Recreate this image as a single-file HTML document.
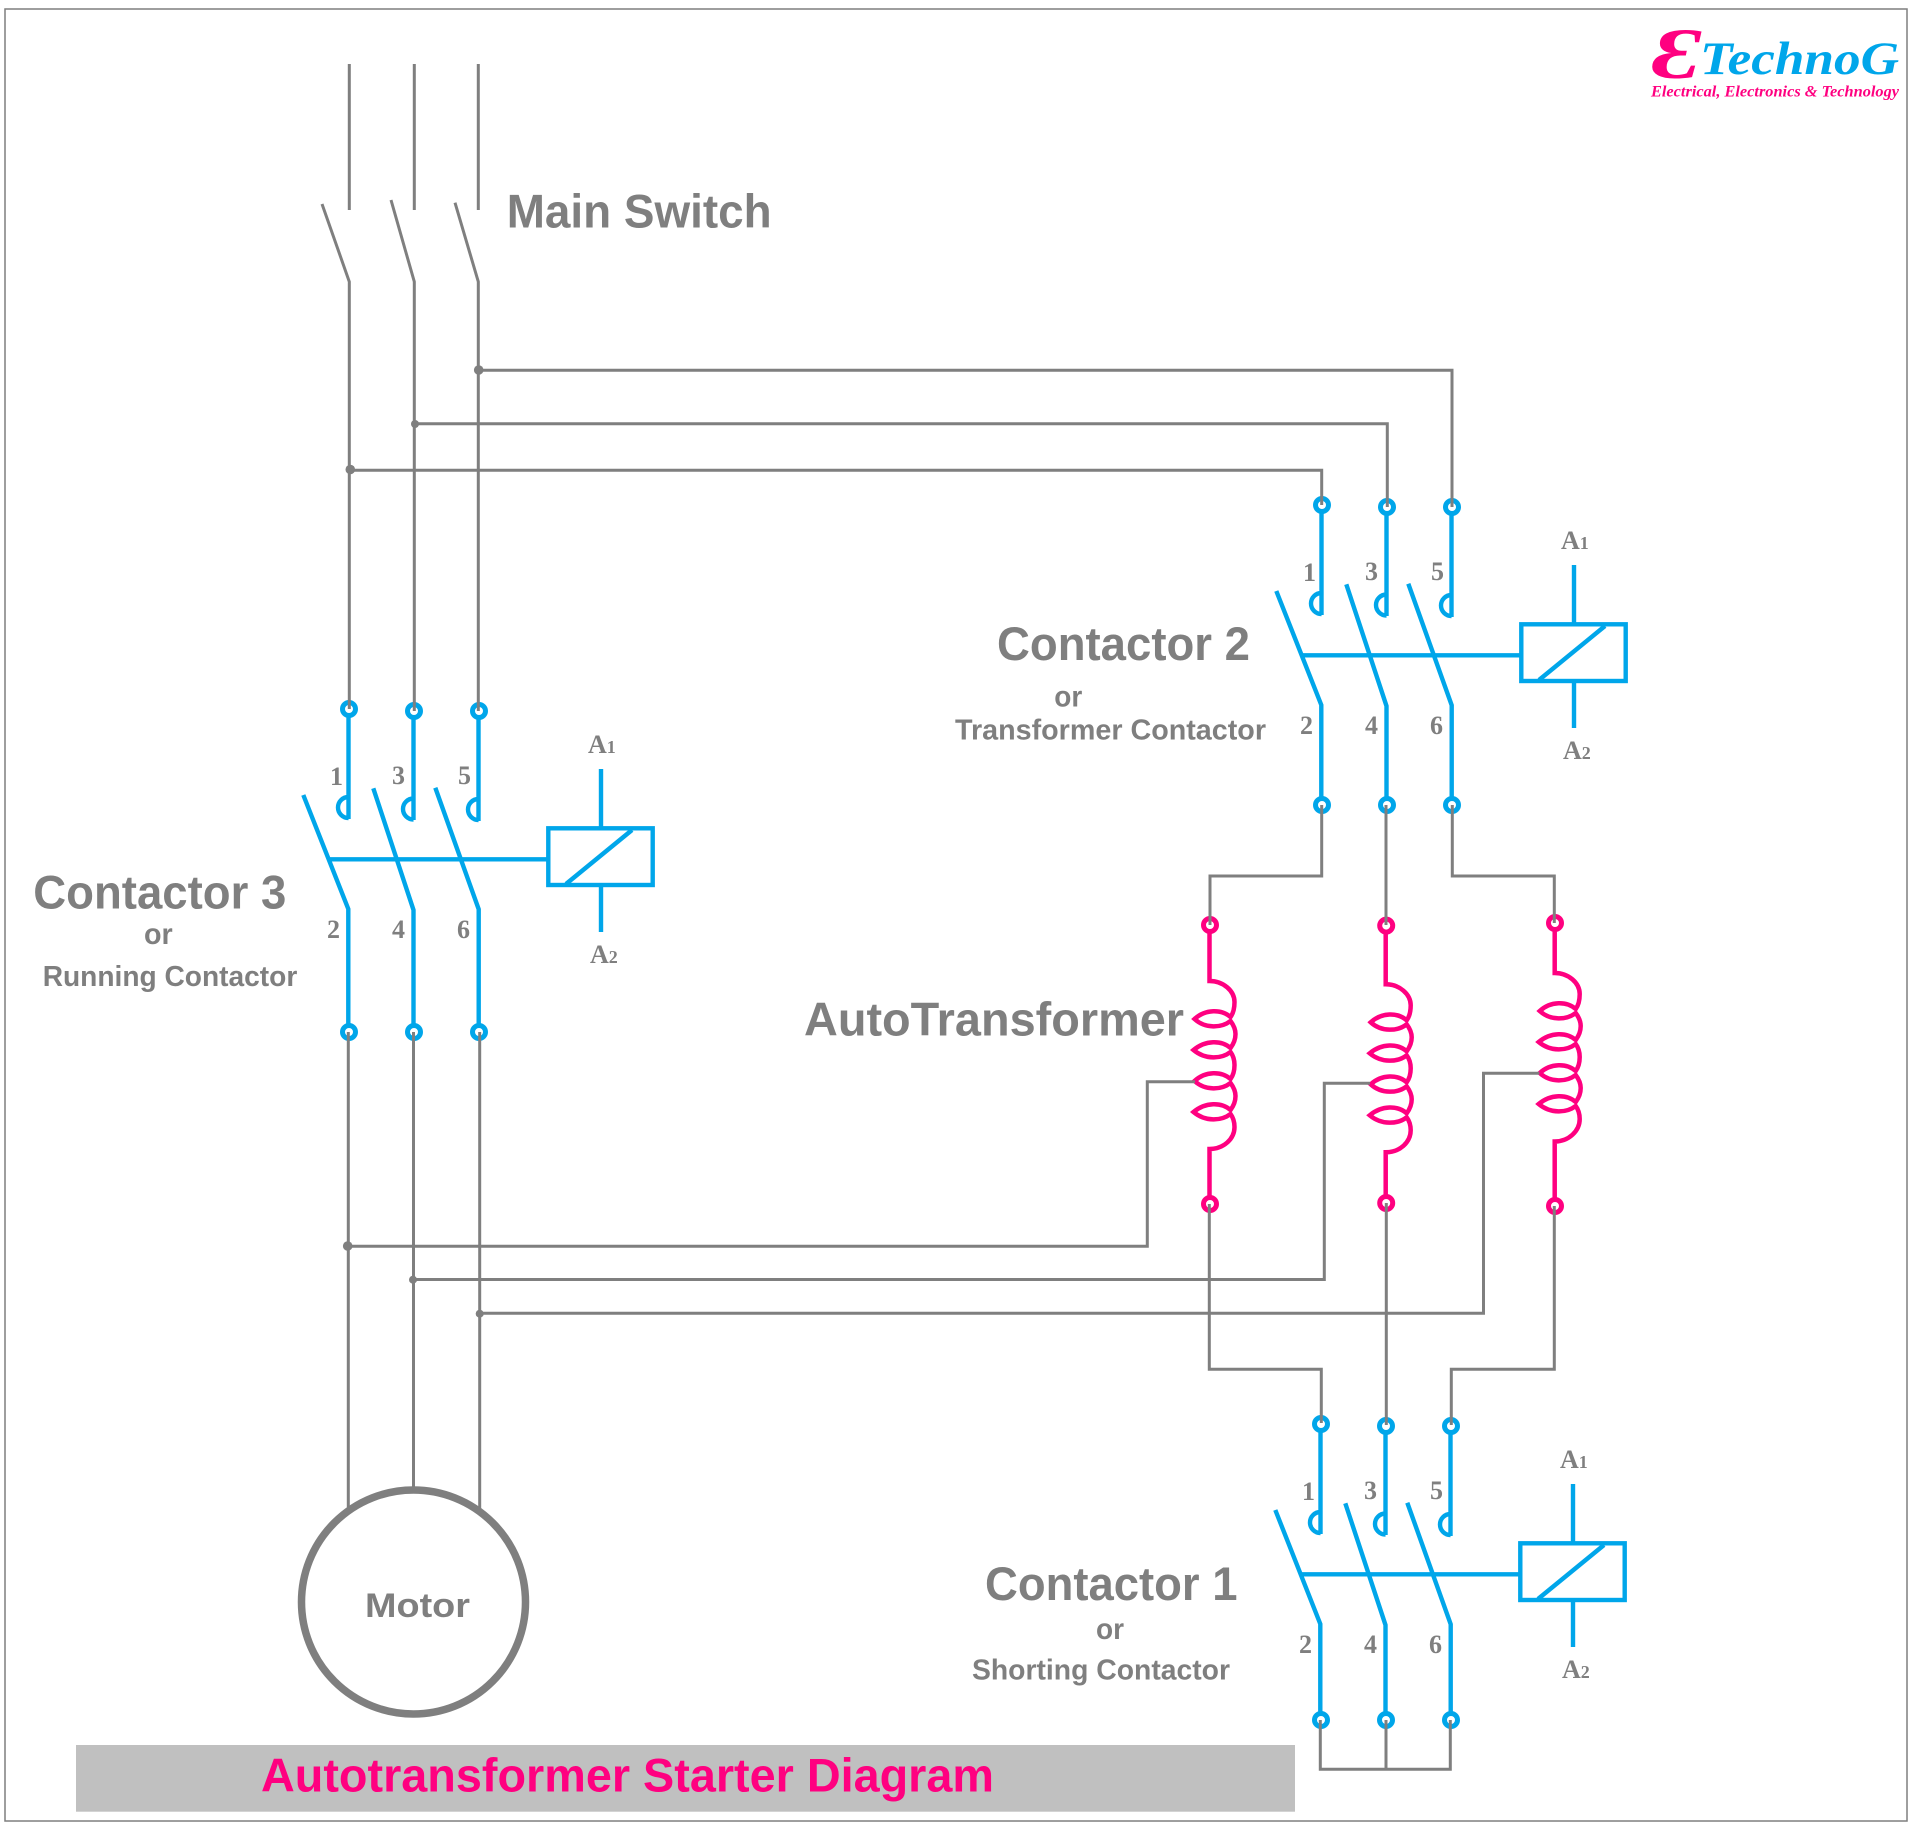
<!DOCTYPE html>
<html lang="en">
<head>
<meta charset="utf-8">
<title>Autotransformer Starter Diagram</title>
<style>
html,body{margin:0;padding:0;background:#fff;width:1921px;height:1829px;overflow:hidden}
svg{display:block}
.s{font-family:"Liberation Sans",sans-serif;font-weight:bold;fill:#7f7f7f}
.n{font-family:"Liberation Serif",serif;font-weight:bold;fill:#7f7f7f;font-size:26px}
.sub{font-size:18px}
.b{fill:none;stroke:#00a6ea;stroke-width:4.4}
.t{fill:#fff;stroke:#00a6ea;stroke-width:5;r:6.5px}
.p{fill:none;stroke:#ff0080;stroke-width:4.5}
.pt{fill:#fff;stroke:#ff0080;stroke-width:5;r:6.5px}
.g{fill:none;stroke:#7f7f7f;stroke-width:3}
.d{fill:#7f7f7f}
</style>
</head>
<body>
<svg width="1921" height="1829" viewBox="0 0 1921 1829" xmlns="http://www.w3.org/2000/svg">
<rect x="0" y="0" width="1921" height="1829" fill="#fff"/>
<rect x="5" y="9" width="1902" height="1812" fill="none" stroke="#7f7f7f" stroke-width="1.5"/>

<!-- Contactor 3 -->
<g>
<circle class="t" cx="349" cy="709" r="7"/><circle class="t" cx="414" cy="711" r="7"/><circle class="t" cx="479" cy="711" r="7"/>
<path class="b" d="M348.5 716V819M348.5 797A10.5 10.5 0 0 0 348.5 818"/>
<path class="b" d="M413.5 718V820M413.5 798.500A10.500 10.500 0 0 0 413.500 819.500"/>
<path class="b" d="M478.500 718V821M478.500 799A10.500 10.500 0 0 0 478.500 820"/>
<path class="b" d="M303.300 795L348.300 909V1025M373.300 788.300L413.500 910V1025M435.300 787.700L478.700 909.300V1025"/>
<circle class="t" cx="349" cy="1032" r="7"/><circle class="t" cx="414" cy="1032" r="7"/><circle class="t" cx="479" cy="1032" r="7"/>
<path class="b" d="M329 859.300H548"/>
<rect class="b" x="548.300" y="828.300" width="104.400" height="56.700"/>
<path class="b" d="M566 884L632 830M601 769V827M601 887V932"/>
<text class="n" x="330" y="785">1</text><text class="n" x="392" y="784">3</text><text class="n" x="458" y="784">5</text>
<text class="n" x="327" y="938">2</text><text class="n" x="392" y="938">4</text><text class="n" x="457" y="938">6</text>
<text class="n" x="588" y="753">A<tspan class="sub">1</tspan></text>
<text class="n" x="590" y="963">A<tspan class="sub">2</tspan></text>
</g>

<!-- Contactor 2 -->
<g transform="translate(973 -204)">
<circle class="t" cx="349" cy="709" r="7"/><circle class="t" cx="414" cy="711" r="7"/><circle class="t" cx="479" cy="711" r="7"/>
<path class="b" d="M348.5 716V819M348.5 797A10.5 10.5 0 0 0 348.5 818"/>
<path class="b" d="M413.5 718V820M413.5 798.500A10.500 10.500 0 0 0 413.500 819.500"/>
<path class="b" d="M478.500 718V821M478.500 799A10.500 10.500 0 0 0 478.500 820"/>
<path class="b" d="M303.300 795L348.300 909V1002M373.300 788.300L413.500 910V1002M435.300 787.700L478.700 909.300V1002"/>
<circle class="t" cx="349" cy="1009" r="7"/><circle class="t" cx="414" cy="1009" r="7"/><circle class="t" cx="479" cy="1009" r="7"/>
<path class="b" d="M329 859.300H548"/>
<rect class="b" x="548.300" y="828.300" width="104.400" height="56.700"/>
<path class="b" d="M566 884L632 830M601 769V827M601 887V932"/>
<text class="n" x="330" y="785">1</text><text class="n" x="392" y="784">3</text><text class="n" x="458" y="784">5</text>
<text class="n" x="327" y="938">2</text><text class="n" x="392" y="938">4</text><text class="n" x="457" y="938">6</text>
<text class="n" x="588" y="753">A<tspan class="sub">1</tspan></text>
<text class="n" x="590" y="963">A<tspan class="sub">2</tspan></text>
</g>

<!-- Contactor 1 -->
<g transform="translate(972 715)">
<circle class="t" cx="349" cy="709" r="7"/><circle class="t" cx="414" cy="711" r="7"/><circle class="t" cx="479" cy="711" r="7"/>
<path class="b" d="M348.5 716V819M348.5 797A10.5 10.5 0 0 0 348.5 818"/>
<path class="b" d="M413.5 718V820M413.5 798.500A10.500 10.500 0 0 0 413.500 819.500"/>
<path class="b" d="M478.500 718V821M478.500 799A10.500 10.500 0 0 0 478.500 820"/>
<path class="b" d="M303.300 795L348.300 909V998M373.300 788.300L413.500 910V998M435.300 787.700L478.700 909.300V998"/>
<circle class="t" cx="349" cy="1005" r="7"/><circle class="t" cx="414" cy="1005" r="7"/><circle class="t" cx="479" cy="1005" r="7"/>
<path class="b" d="M329 859.300H548"/>
<rect class="b" x="548.300" y="828.300" width="104.400" height="56.700"/>
<path class="b" d="M566 884L632 830M601 769V827M601 887V932"/>
<text class="n" x="330" y="785">1</text><text class="n" x="392" y="784">3</text><text class="n" x="458" y="784">5</text>
<text class="n" x="327" y="938">2</text><text class="n" x="392" y="938">4</text><text class="n" x="457" y="938">6</text>
<text class="n" x="588" y="753">A<tspan class="sub">1</tspan></text>
<text class="n" x="590" y="963">A<tspan class="sub">2</tspan></text>
</g>

<!-- Coils -->
<g transform="translate(1209.500 1019)">
<path class="p" d="M0 -88V-38C14 -38 25 -28 25 -17C25 -11 24 -6 21 -2C12 -10 -4 -10 -15 0C-4 10 12 9 21 2C24 6 26 10 26 15C26 20 24 25 21 29C12 21 -4 21 -16 31C-4 41 12 40 21 33C24 37 25 41 25 46C25 51 24 56 21 60C12 52 -4 52 -15 62C-4 72 12 71 21 64C24 68 26 72 26 77C26 82 24 87 21 91C12 83 -4 83 -16 93C-4 103 12 102 21 95C24 99 25 103 25 108C25 120 14 130 0 130V180"/>
<circle class="pt" cx="0.500" cy="-94" r="6.800"/><circle class="pt" cx="0.500" cy="185" r="6.800"/>
</g>
<g transform="translate(1385.700 1022.300)">
<path class="p" d="M0 -90V-38C14 -38 25 -28 25 -17C25 -11 24 -6 21 -2C12 -10 -4 -10 -15 0C-4 10 12 9 21 2C24 6 26 10 26 15C26 20 24 25 21 29C12 21 -4 21 -16 31C-4 41 12 40 21 33C24 37 25 41 25 46C25 51 24 56 21 60C12 52 -4 52 -15 62C-4 72 12 71 21 64C24 68 26 72 26 77C26 82 24 87 21 91C12 83 -4 83 -16 93C-4 103 12 102 21 95C24 99 25 103 25 108C25 120 14 130 0 130V175"/>
<circle class="pt" cx="0.500" cy="-96.700" r="6.800"/><circle class="pt" cx="0.500" cy="180.700" r="6.800"/>
</g>
<g transform="translate(1554.700 1011)">
<path class="p" d="M0 -82V-38C14 -38 25 -28 25 -17C25 -11 24 -6 21 -2C12 -10 -4 -10 -15 0C-4 10 12 9 21 2C24 6 26 10 26 15C26 20 24 25 21 29C12 21 -4 21 -16 31C-4 41 12 40 21 33C24 37 25 41 25 46C25 51 24 56 21 60C12 52 -4 52 -15 62C-4 72 12 71 21 64C24 68 26 72 26 77C26 82 24 87 21 91C12 83 -4 83 -16 93C-4 103 12 102 21 95C24 99 25 103 25 108C25 120 14 130.500 0 130.500V190"/>
<circle class="pt" cx="0.300" cy="-88" r="6.800"/><circle class="pt" cx="0.300" cy="195" r="6.800"/>
</g>

<!-- Grey wiring -->
<path class="g" d="M349.300 64V210M414.300 64V210M478.300 64V210"/>
<path class="g" d="M322 204L349.300 281.700V709M391 200L414.300 281.700V711M455 202.700L478.300 281.700V711"/>
<path class="g" d="M478.700 370.300H1452V507"/>
<path class="g" d="M415 423.700H1387.300V507"/>
<path class="g" d="M350.300 470.300H1321.700V505"/>
<path class="g" d="M1321.700 805V876H1210V925"/>
<path class="g" d="M1386 805V925"/>
<path class="g" d="M1452.300 805V876H1554.300V923"/>
<path class="g" d="M348.300 1032V1510M413.500 1032V1490M479.700 1032V1513"/>
<path class="g" d="M347.700 1246.300H1147.300V1081.700H1195"/>
<path class="g" d="M413 1279.500H1324.300V1083.300H1370"/>
<path class="g" d="M479.700 1313.300H1483.500V1073.300H1539.300"/>
<path class="g" d="M1209.300 1204V1369.300H1321.300V1423"/>
<path class="g" d="M1386.300 1203V1425"/>
<path class="g" d="M1554.300 1206V1369.300H1451.300V1425"/>
<path class="g" d="M1320.300 1720V1769.300H1450.300V1720M1386 1720V1769.300"/>
<circle class="d" cx="478.700" cy="370" r="4.800"/>
<circle class="d" cx="415" cy="424" r="4"/>
<circle class="d" cx="350.300" cy="469.500" r="4.800"/>
<circle class="d" cx="347.700" cy="1246" r="4.800"/>
<circle class="d" cx="413" cy="1279.700" r="4"/>
<circle class="d" cx="479.700" cy="1313.700" r="4"/>

<!-- Motor -->
<circle cx="413.500" cy="1602" r="112" fill="#fff" stroke="#7f7f7f" stroke-width="7.500"/>
<text class="s" x="365" y="1617" font-size="34" textLength="105" lengthAdjust="spacingAndGlyphs">Motor</text>

<!-- Labels -->
<text class="s" x="506.700" y="227.700" font-size="47" textLength="265" lengthAdjust="spacingAndGlyphs">Main Switch</text>
<text class="s" x="33.300" y="908.300" font-size="47" textLength="253" lengthAdjust="spacingAndGlyphs">Contactor 3</text>
<text class="s" x="144" y="944" font-size="30" textLength="28.700" lengthAdjust="spacingAndGlyphs">or</text>
<text class="s" x="42.700" y="986" font-size="29" textLength="254.600" lengthAdjust="spacingAndGlyphs">Running Contactor</text>
<text class="s" x="997" y="660" font-size="47" textLength="253" lengthAdjust="spacingAndGlyphs">Contactor 2</text>
<text class="s" x="1054.300" y="706.700" font-size="30" textLength="28" lengthAdjust="spacingAndGlyphs">or</text>
<text class="s" x="955" y="739.300" font-size="29" textLength="311" lengthAdjust="spacingAndGlyphs">Transformer Contactor</text>
<text class="s" x="985" y="1600" font-size="47" textLength="252.500" lengthAdjust="spacingAndGlyphs">Contactor 1</text>
<text class="s" x="1096" y="1639" font-size="30" textLength="28" lengthAdjust="spacingAndGlyphs">or</text>
<text class="s" x="972" y="1679.300" font-size="29" textLength="258" lengthAdjust="spacingAndGlyphs">Shorting Contactor</text>
<text class="s" x="804" y="1035.500" font-size="47" textLength="380" lengthAdjust="spacingAndGlyphs">AutoTransformer</text>

<!-- Title bar -->
<rect x="76" y="1745" width="1219" height="66.700" fill="#c0c0c0"/>
<text x="261" y="1791.700" font-family="'Liberation Sans',sans-serif" font-weight="bold" font-size="47" fill="#ff0080" textLength="733" lengthAdjust="spacingAndGlyphs">Autotransformer Starter Diagram</text>

<!-- Logo -->
<text x="1652" y="78" font-family="'Liberation Serif','DejaVu Serif',serif" font-weight="bold" font-style="italic" font-size="72" fill="#ff0080" textLength="48" lengthAdjust="spacingAndGlyphs">Ɛ</text>
<text x="1700" y="74" font-family="'Liberation Serif',serif" font-weight="bold" font-style="italic" font-size="47" fill="#00a6ea" textLength="199" lengthAdjust="spacingAndGlyphs">TechnoG</text>
<text x="1651" y="96.700" font-family="'Liberation Serif',serif" font-weight="bold" font-style="italic" font-size="16" fill="#ff0080" textLength="248" lengthAdjust="spacingAndGlyphs">Electrical, Electronics &amp; Technology</text>
</svg>
</body>
</html>
